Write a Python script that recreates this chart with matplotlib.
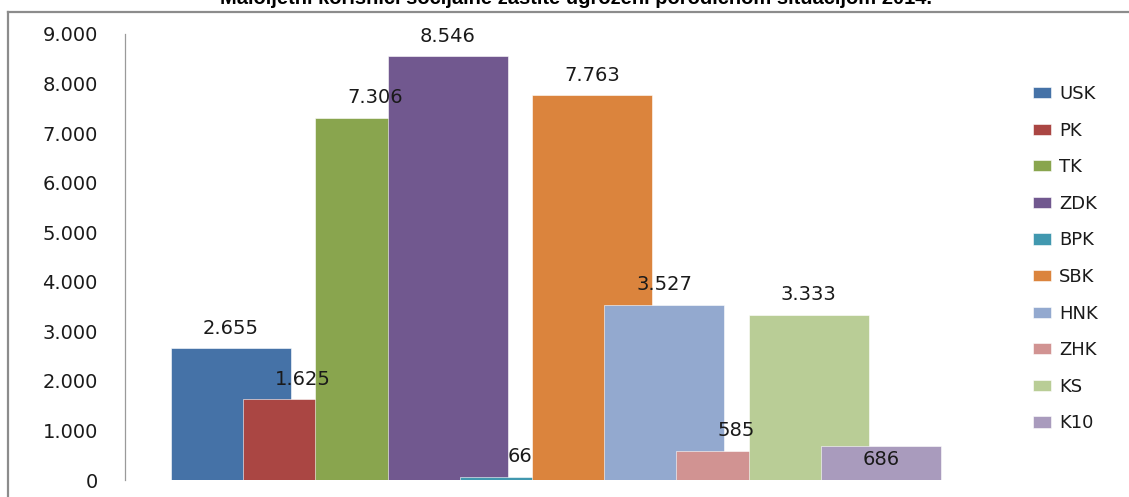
import matplotlib
matplotlib.use('Agg')
import matplotlib.pyplot as plt
from matplotlib.patches import Patch
from matplotlib.lines import Line2D
from matplotlib.ticker import FuncFormatter, MultipleLocator

# podaci
kantoni = ['USK', 'PK', 'TK', 'ZDK', 'BPK', 'SBK', 'HNK', 'ZHK', 'KS', 'K10']
vrijednosti = [2655, 1625, 7306, 8546, 66, 7763, 3527, 585, 3333, 686]
boje = ['#4572A7', '#AA4643', '#89A54E', '#71588F', '#4198AF',
        '#DB843D', '#93A9CF', '#D19392', '#B9CD96', '#A99BBD']
naslov = 'Maloljetni korisnici socijalne zaštite ugroženi porodičnom situacijom 2014.'


def fmt(v, pos=None):
    return f'{int(v):,}'.replace(',', '.')


W, H = 1129, 497
fig = plt.figure(figsize=(W / 100, H / 100), dpi=100)

# plot area in pixels: left 125, right 945, top 34, bottom 480
ax = fig.add_axes([125 / W, (H - 480) / H, (945 - 125) / W, (480 - 34) / H])

step = 72.2
width = 120 / step
for i, (k, v, c) in enumerate(zip(kantoni, vrijednosti, boje)):
    ax.bar(i, v, width=width, color=c, edgecolor='white', linewidth=0.4)
    # data label (K10 is placed inside its bar, as in the original)
    off = -9.5 if k == 'K10' else 14.6
    ax.annotate(fmt(v), (i, v), xytext=(0, off), textcoords='offset points',
                ha='center', va='center', fontsize=14, color='#1a1a1a')

ax.set_xlim((125 - 231) / step, (945 - 231) / step)
ax.set_ylim(0, 9000)
ax.yaxis.set_major_locator(MultipleLocator(1000))
ax.yaxis.set_major_formatter(FuncFormatter(fmt))
ax.tick_params(axis='y', length=0, pad=19.5, labelsize=14, labelcolor='#1a1a1a')
ax.set_xticks([])
for s in ['top', 'right', 'bottom']:
    ax.spines[s].set_visible(False)
ax.spines['left'].set_color('#9a9a9a')
ax.spines['left'].set_linewidth(0.9)

handles = [Patch(facecolor=c, edgecolor='white', linewidth=0.4) for c in boje]
fig.legend(handles, kantoni, loc='upper left',
           bbox_to_anchor=(1033 / W, 1 - 85 / H), frameon=False,
           fontsize=13, handlelength=1.0, handleheight=0.58,
           handletextpad=0.45, labelspacing=1.03, labelcolor='#1a1a1a',
           borderaxespad=0, borderpad=0)

# frame of the chart (top and left edges)
fig.add_artist(Line2D([8 / W, 1], [1 - 12 / H, 1 - 12 / H],
                      color='#8c8c8c', linewidth=1.6, transform=fig.transFigure))
fig.add_artist(Line2D([8 / W, 8 / W], [0, 1 - 12 / H],
                      color='#8c8c8c', linewidth=1.6, transform=fig.transFigure))

# title is cut off at the top of the image
fig.text(576 / W, 1 - 4.5 / H, naslov, ha='center', va='baseline',
         fontsize=14.5, fontweight='bold', family='Liberation Sans')

fig.savefig('out.png', dpi=100)
